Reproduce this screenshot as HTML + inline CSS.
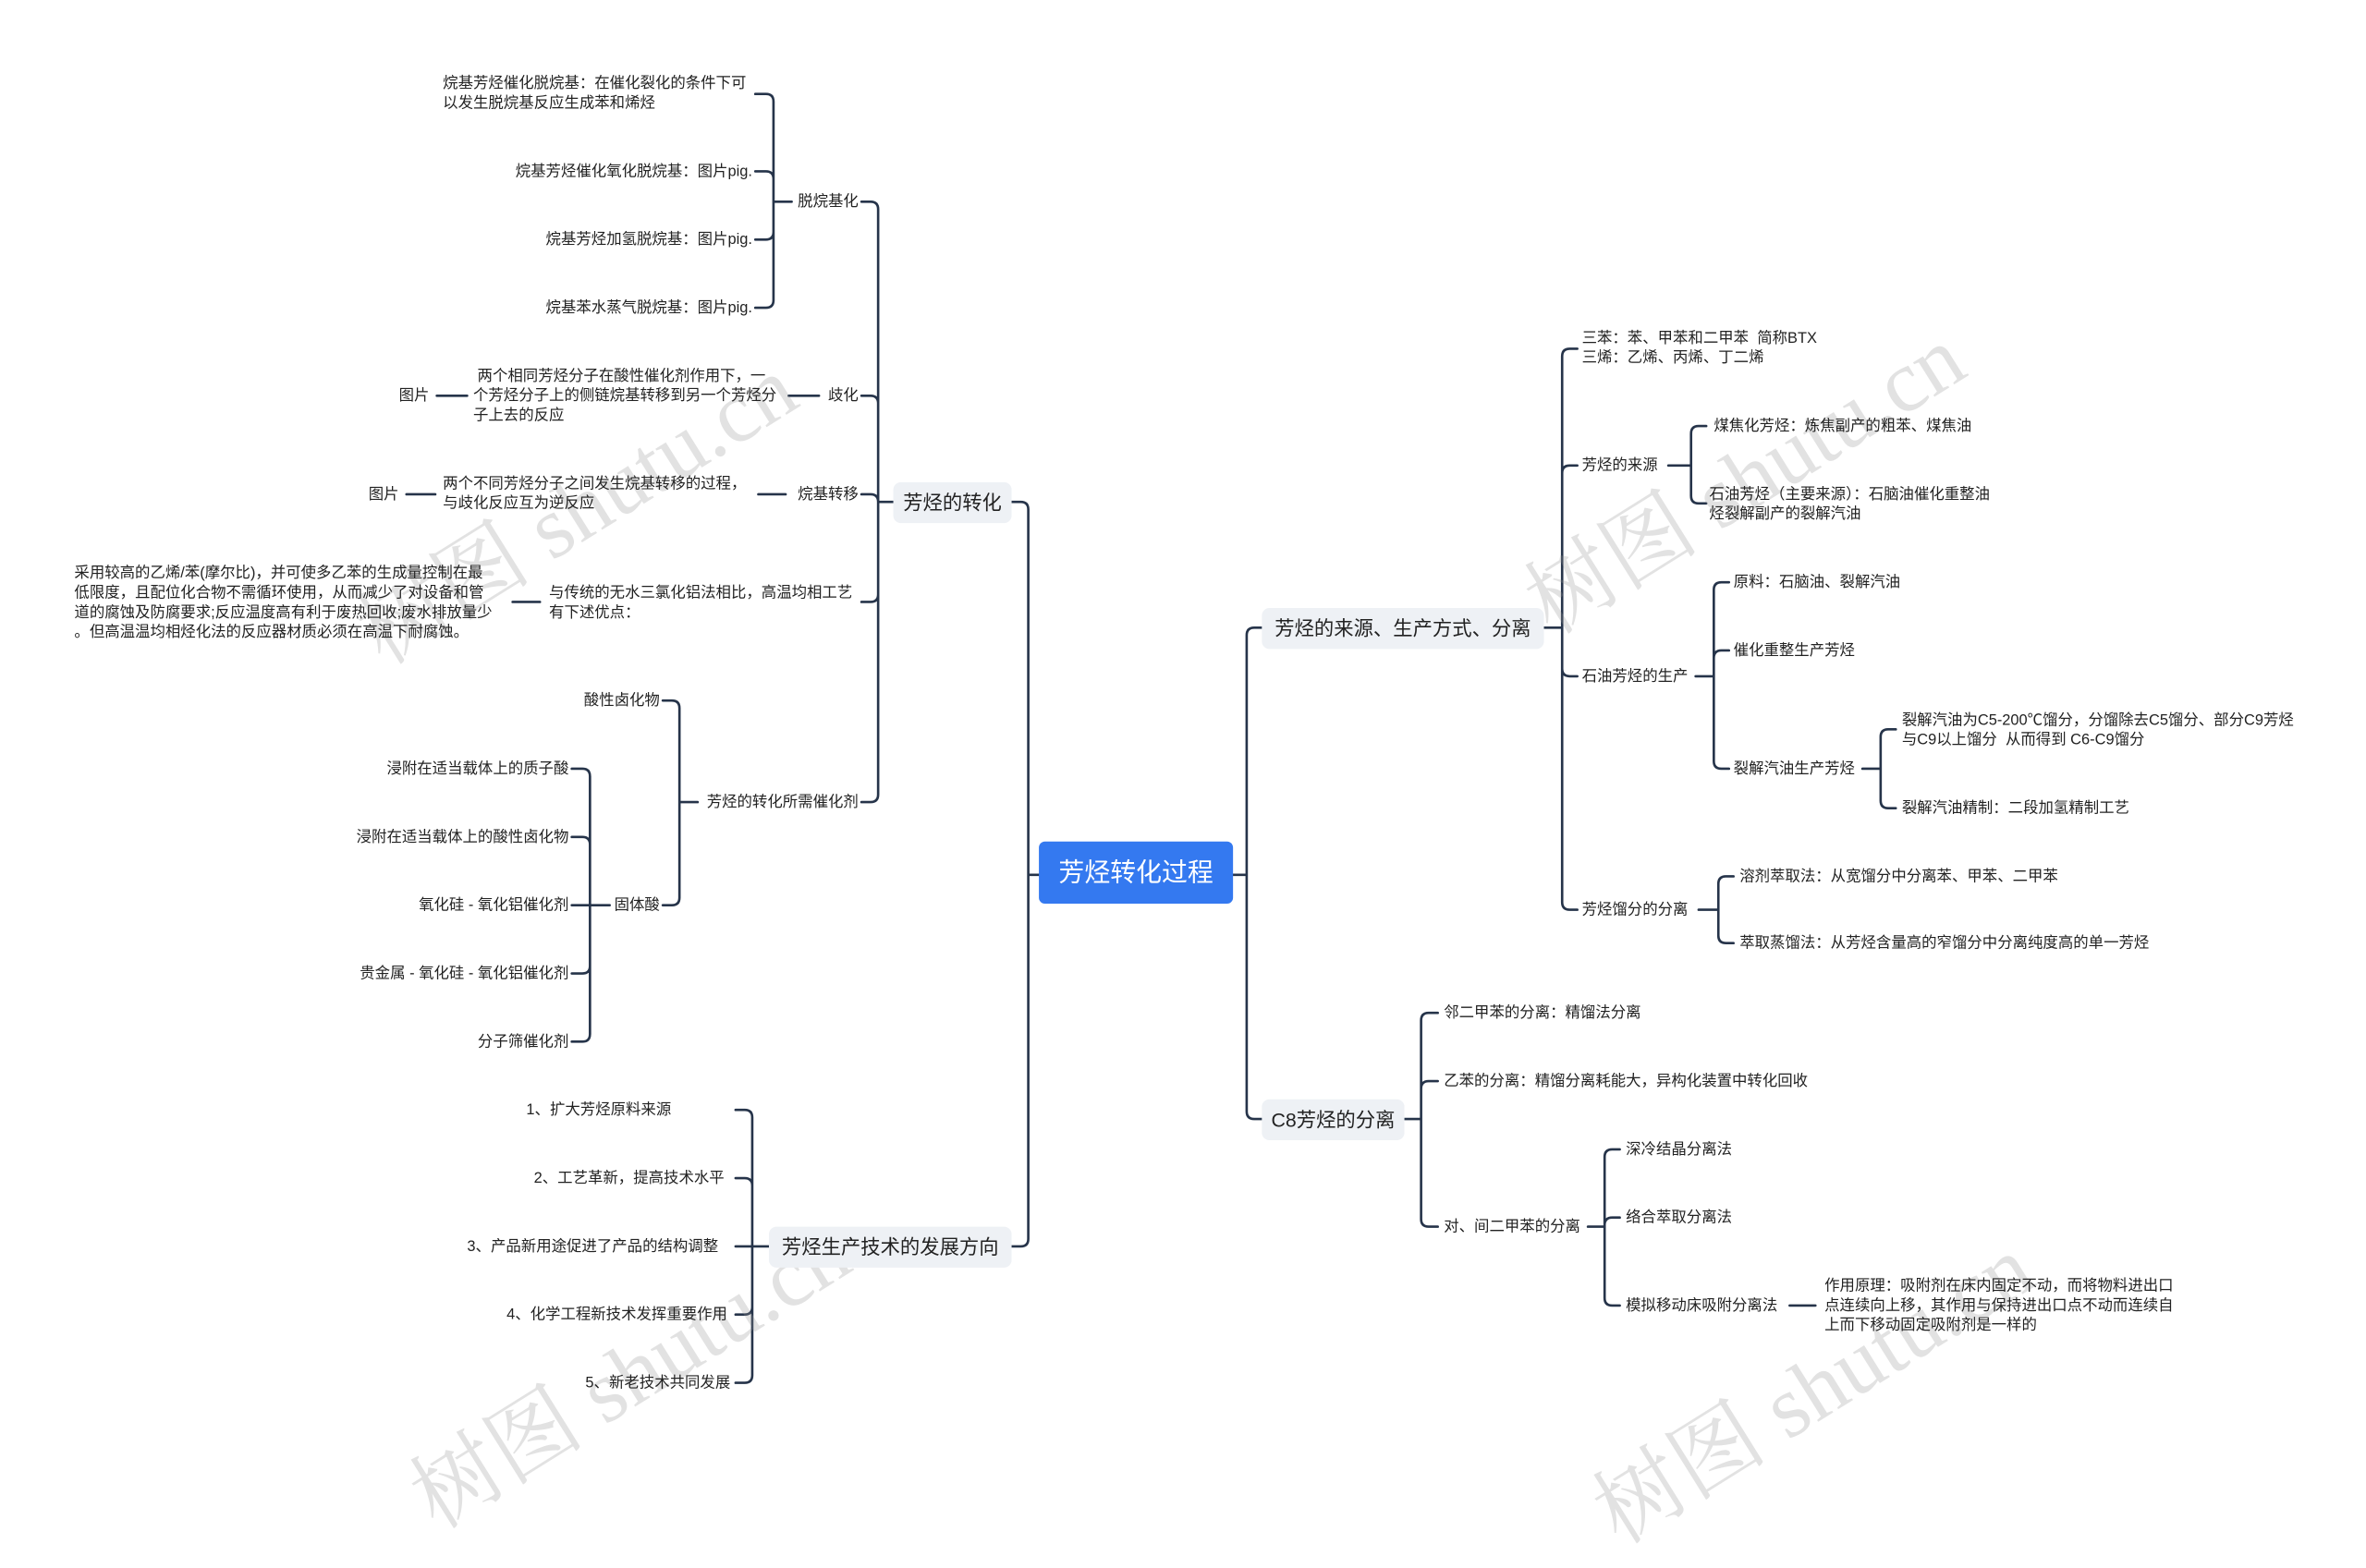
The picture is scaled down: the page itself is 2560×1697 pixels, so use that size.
<!DOCTYPE html>
<html><head><meta charset="utf-8"><style>
html,body{margin:0;padding:0;background:#fff;width:2560px;height:1580px;overflow:hidden}
#s{position:absolute;left:0;top:0;width:1560px;height:963px;transform:scale(1.641);transform-origin:0 0;font-family:"Liberation Sans","Noto Sans CJK SC",sans-serif;color:#222}
.t{position:absolute;font-size:10px;line-height:13px;white-space:nowrap}
.r{text-align:right}
.b{position:absolute;background:#eef1f5;border-radius:5px;font-size:13px;line-height:27px;height:27px;text-align:center;color:#222}
.root{position:absolute;left:685px;top:555px;width:128px;height:41px;background:#3479f0;border-radius:4px;color:#fff;font-size:17px;line-height:41px;text-align:center}
.wm{position:absolute;font-family:"Liberation Serif","Noto Serif CJK SC",serif;font-size:58px;color:rgba(150,150,150,0.28);transform:rotate(-32deg);white-space:nowrap;transform-origin:center}
svg{position:absolute;left:0;top:0}
</style></head><body><div id="s">
<svg id="g" width="1560" height="963" viewBox="0 0 1560 963"></svg>

<div class="wm" style="left:215px;top:290px">树图 shutu.cn</div>
<div class="wm" style="left:985px;top:270px">树图 shutu.cn</div>
<div class="wm" style="left:250px;top:860px">树图 shutu.cn</div>
<div class="wm" style="left:1030px;top:870px">树图 shutu.cn</div>

<div class="root">芳烃转化过程</div>

<div class="b" style="left:589px;top:318px;width:78px">芳烃的转化</div>
<div class="b" style="left:507px;top:809px;width:160px">芳烃生产技术的发展方向</div>
<div class="b" style="left:832px;top:401px;width:186px">芳烃的来源、生产方式、分离</div>
<div class="b" style="left:832px;top:725px;width:94px">C8芳烃的分离</div>

<!-- left side -->
<div class="t" style="left:292px;top:49px">烷基芳烃催化脱烷基：在催化裂化的条件下可<br>以发生脱烷基反应生成苯和烯烃</div>
<div class="t r" style="right:1064px;top:107px">烷基芳烃催化氧化脱烷基：图片pig.</div>
<div class="t r" style="right:1064px;top:152px">烷基芳烃加氢脱烷基：图片pig.</div>
<div class="t r" style="right:1064px;top:197px">烷基苯水蒸气脱烷基：图片pig.</div>
<div class="t r" style="right:994px;top:127px">脱烷基化</div>

<div class="t r" style="right:994px;top:255px">歧化</div>
<div class="t" style="left:312px;top:242px">&nbsp;两个相同芳烃分子在酸性催化剂作用下，一<br>个芳烃分子上的侧链烷基转移到另一个芳烃分<br>子上去的反应</div>
<div class="t" style="left:263px;top:255px">图片</div>

<div class="t r" style="right:994px;top:320px">烷基转移</div>
<div class="t" style="left:292px;top:313px">两个不同芳烃分子之间发生烷基转移的过程，<br>与歧化反应互为逆反应</div>
<div class="t" style="left:243px;top:320px">图片</div>

<div class="t" style="left:362px;top:385px">与传统的无水三氯化铝法相比，高温均相工艺<br>有下述优点：</div>
<div class="t" style="left:49px;top:372px">采用较高的乙烯/苯(摩尔比)，并可使多乙苯的生成量控制在最<br>低限度，且配位化合物不需循环使用，从而减少了对设备和管<br>道的腐蚀及防腐要求;反应温度高有利于废热回收;废水排放量少<br>。但高温温均相烃化法的反应器材质必须在高温下耐腐蚀。</div>

<div class="t r" style="right:994px;top:523px">芳烃的转化所需催化剂</div>
<div class="t r" style="right:1125px;top:456px">酸性卤化物</div>
<div class="t r" style="right:1125px;top:591px">固体酸</div>
<div class="t r" style="right:1185px;top:501px">浸附在适当载体上的质子酸</div>
<div class="t r" style="right:1185px;top:546px">浸附在适当载体上的酸性卤化物</div>
<div class="t r" style="right:1185px;top:591px">氧化硅 - 氧化铝催化剂</div>
<div class="t r" style="right:1185px;top:636px">贵金属 - 氧化硅 - 氧化铝催化剂</div>
<div class="t r" style="right:1185px;top:681px">分子筛催化剂</div>

<div class="t" style="left:347px;top:726px">1、扩大芳烃原料来源</div>
<div class="t" style="left:352px;top:771px">2、工艺革新，提高技术水平</div>
<div class="t" style="left:308px;top:816px">3、产品新用途促进了产品的结构调整</div>
<div class="t" style="left:334px;top:861px">4、化学工程新技术发挥重要作用</div>
<div class="t" style="left:386px;top:906px">5、新老技术共同发展</div>

<!-- right side -->
<div class="t" style="left:1043px;top:217px">三苯：苯、甲苯和二甲苯&nbsp; 简称BTX<br>三烯：乙烯、丙烯、丁二烯</div>
<div class="t" style="left:1043px;top:301px">芳烃的来源</div>
<div class="t" style="left:1130px;top:275px">煤焦化芳烃：炼焦副产的粗苯、煤焦油</div>
<div class="t" style="left:1127px;top:320px">石油芳烃（主要来源）：石脑油催化重整油<br>烃裂解副产的裂解汽油</div>
<div class="t" style="left:1043px;top:440px">石油芳烃的生产</div>
<div class="t" style="left:1143px;top:378px">原料：石脑油、裂解汽油</div>
<div class="t" style="left:1143px;top:423px">催化重整生产芳烃</div>
<div class="t" style="left:1143px;top:501px">裂解汽油生产芳烃</div>
<div class="t" style="left:1254px;top:469px">裂解汽油为C5-200℃馏分，分馏除去C5馏分、部分C9芳烃<br>与C9以上馏分&nbsp; 从而得到 C6-C9馏分</div>
<div class="t" style="left:1254px;top:527px">裂解汽油精制：二段加氢精制工艺</div>
<div class="t" style="left:1043px;top:594px">芳烃馏分的分离</div>
<div class="t" style="left:1147px;top:572px">溶剂萃取法：从宽馏分中分离苯、甲苯、二甲苯</div>
<div class="t" style="left:1147px;top:616px">萃取蒸馏法：从芳烃含量高的窄馏分中分离纯度高的单一芳烃</div>

<div class="t" style="left:952px;top:662px">邻二甲苯的分离：精馏法分离</div>
<div class="t" style="left:952px;top:707px">乙苯的分离：精馏分离耗能大，异构化装置中转化回收</div>
<div class="t" style="left:952px;top:803px">对、间二甲苯的分离</div>
<div class="t" style="left:1072px;top:752px">深冷结晶分离法</div>
<div class="t" style="left:1072px;top:797px">络合萃取分离法</div>
<div class="t" style="left:1072px;top:855px">模拟移动床吸附分离法</div>
<div class="t" style="left:1203px;top:842px">作用原理：吸附剂在床内固定不动，而将物料进出口<br>点连续向上移，其作用与保持进出口点不动而连续自<br>上而下移动固定吸附剂是一样的</div>
</div>
<script>
var d='';
function C(px,py,vx,cx,ys){
  var r=5,dir=cx>vx?1:-1;
  d+='M'+px+' '+py+'H'+vx;
  ys.forEach(function(y){
    if(Math.abs(y-py)<1){d+='M'+vx+' '+py+'H'+cx;return;}
    var s=y>py?1:-1;
    d+='M'+vx+' '+py+'V'+(y-s*r)+'Q'+vx+' '+y+' '+(vx+dir*r)+' '+y+'H'+cx;
  });
}
function L(x1,x2,y){d+='M'+x1+' '+y+'H'+x2;}
C(685,577,678,667,[331,822]);
C(813,577,822,832,[414,738]);
C(589,331,579,568,[133,261,326,397,529]);
C(522,133,510,498,[62,113,158,203]);
L(540,520,261);L(308,288,261);
L(518,500,326);L(287,268,326);
L(356,338,397);
C(460,529,448,437,[462,597]);
C(402,597,389,377,[507,552,597,642,687]);
C(507,822,496,485,[732,777,822,867,912]);
C(1018,414,1030,1040,[230,307,446,600]);
C(1100,307,1115,1125,[281,332]);
C(1118,446,1130,1140,[384,429,507]);
C(1228,507,1240,1250,[481,533]);
C(1120,600,1133,1143,[578,622]);
C(926,738,937,948,[668,713,809]);
C(1047,809,1058,1068,[758,803,861]);
L(1180,1197,861);
document.getElementById('g').innerHTML='<path d="'+d+'" fill="none" stroke="#26344a" stroke-width="1.6" stroke-linecap="round"/>';
</script>
</body></html>
